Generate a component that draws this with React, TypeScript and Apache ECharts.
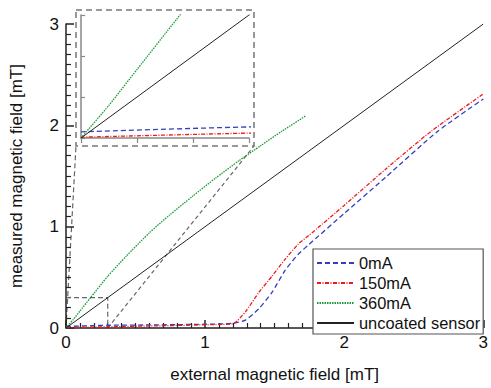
import React, { useEffect, useRef } from "react";
import * as echarts from "echarts";

const xTicks = [0, 1, 2, 3];
const seriesNames = ["0mA", "150mA", "360mA", "uncoated sensor"];

const blueX = [0, 0.3, 0.6, 0.9, 1.1, 1.2, 1.29, 1.386, 1.48, 1.576, 1.671, 1.743, 2.0, 2.3, 2.671, 3.0];
const blueY = [0.015, 0.027, 0.03, 0.035, 0.04, 0.047, 0.078, 0.19, 0.35, 0.57, 0.73, 0.82, 1.13, 1.49, 1.94, 2.26];

const redX = [0, 0.3, 0.6, 0.9, 1.1, 1.207, 1.29, 1.386, 1.48, 1.576, 1.671, 1.743, 2.0, 2.3, 2.624, 3.0];
const redY = [0.002, 0.012, 0.02, 0.028, 0.035, 0.045, 0.16, 0.35, 0.51, 0.68, 0.83, 0.91, 1.21, 1.57, 1.94, 2.31];

const greenX = [0, 0.05, 0.1, 0.171, 0.3, 0.433, 0.6, 0.743, 0.91, 1.076, 1.243, 1.4, 1.55, 1.724];
const greenY = [0, 0.08, 0.167, 0.29, 0.51, 0.709, 0.94, 1.113, 1.3, 1.48, 1.65, 1.8, 1.94, 2.094];

const refX = [0, 3];
const refY = [0, 3];

const zoomBoxX = [0, 0.3, 0.3];
const zoomBoxY = [0.3, 0.3, 0];

const zip = (xs: number[], ys: number[]) => xs.map((x, i) => [x, ys[i]]);

const FONT = "'Liberation Sans', Arial, sans-serif";
const BLUE = "#3040c0";
const RED = "#f01818";
const GREEN = "#1a9a3a";
const BLACK = "#222";

export default function App() {
  const ref = useRef<HTMLDivElement>(null);
  useEffect(() => {
    if (!ref.current) return;
    const chart = echarts.init(ref.current, undefined, { renderer: "svg" });

    const lineSeries = (name: string, data: number[][], color: string, type: any, idx: number) => ({
      name,
      type: "line",
      data,
      xAxisIndex: idx,
      yAxisIndex: idx,
      symbol: "none",
      showSymbol: false,
      smooth: 0.2,
      clip: true,
      lineStyle: { color, width: 1.3, type },
      itemStyle: { color },
      z: idx === 1 ? 5 : 3,
    });

    const mk = (idx: number) => [
      lineSeries(seriesNames[0], zip(blueX, blueY), BLUE, [5, 3], idx),
      lineSeries(seriesNames[1], zip(redX, redY), RED, [4, 1.5, 1, 1.5], idx),
      lineSeries(seriesNames[2], zip(greenX, greenY), GREEN, [1.5, 1], idx),
      { ...lineSeries(seriesNames[3], zip(refX, refY), BLACK, "solid", idx), smooth: false, lineStyle: { color: BLACK, width: 1, type: "solid" } },
    ];

    chart.setOption({
      animation: false,
      backgroundColor: "#fff",
      textStyle: { fontFamily: FONT },
      grid: [
        { left: 66, right: 5, top: 24, bottom: 55 },
        { left: 81, top: 15, width: 168, height: 123 },
      ],
      xAxis: [
        {
          type: "value",
          gridIndex: 0,
          min: 0,
          max: 3,
          interval: 1,
          name: "external magnetic field [mT]",
          nameLocation: "middle",
          nameGap: 38,
          nameTextStyle: { fontSize: 17, color: "#111", fontFamily: FONT },
          axisLine: { show: true, lineStyle: { color: "#222", width: 1.5 } },
          axisTick: { show: true, inside: true, length: 8, lineStyle: { color: "#222", width: 1.5 } },
          minorTick: { show: true, splitNumber: 10, length: 5, lineStyle: { color: "#222", width: 1.2 } },
          axisLabel: { fontSize: 17, color: "#111", margin: 6, fontFamily: FONT, formatter: (v: number) => (xTicks.includes(v) ? String(v) : "") },
          splitLine: { show: false },
        },
        {
          type: "value",
          gridIndex: 1,
          min: 0,
          max: 0.3,
          interval: 0.1,
          axisLine: { show: true, lineStyle: { color: "#888", width: 1.5 } },
          axisTick: { show: true, inside: false, length: 5, lineStyle: { color: "#888", width: 1.2 } },
          axisLabel: { show: false },
          splitLine: { show: false },
        },
      ],
      yAxis: [
        {
          type: "value",
          gridIndex: 0,
          min: 0,
          max: 3,
          interval: 1,
          name: "measured magnetic field [mT]",
          nameLocation: "middle",
          nameGap: 41,
          nameTextStyle: { fontSize: 17, color: "#111", fontFamily: FONT },
          axisLine: { show: true, lineStyle: { color: "#222", width: 1.5 } },
          axisTick: { show: true, inside: true, length: 8, lineStyle: { color: "#222", width: 1.5 } },
          minorTick: { show: true, splitNumber: 10, length: 5, lineStyle: { color: "#222", width: 1.2 } },
          axisLabel: { fontSize: 17, color: "#111", margin: 7, fontFamily: FONT },
          splitLine: { show: false },
        },
        {
          type: "value",
          gridIndex: 1,
          min: 0,
          max: 0.3,
          interval: 0.1,
          axisLine: { show: true, lineStyle: { color: "#888", width: 1.5 } },
          axisTick: { show: true, inside: true, length: 4, lineStyle: { color: "#888", width: 1.2 } },
          axisLabel: { show: false },
          splitLine: { show: false },
        },
      ],
      legend: {
        data: seriesNames,
        orient: "vertical",
        left: 313,
        top: 249,
        backgroundColor: "#fff",
        borderColor: "#555",
        borderWidth: 1.2,
        padding: [5, 3, 2, 3],
        itemWidth: 37,
        itemHeight: 10,
        itemGap: 2,
        itemStyle: { opacity: 0, borderWidth: 0 },
        textStyle: { fontSize: 16.4, color: "#111", lineHeight: 18, fontFamily: FONT },
      },
      series: [
        ...mk(0),
        ...mk(1),
        {
          name: "zoombox",
          type: "line",
          data: zip(zoomBoxX, zoomBoxY),
          xAxisIndex: 0,
          yAxisIndex: 0,
          symbol: "none",
          silent: true,
          lineStyle: { color: "#666", width: 1.2, type: [5, 3] },
          z: 2,
        },
      ],
    });

    const p0 = chart.convertToPixel({ xAxisIndex: 0, yAxisIndex: 0 } as any, [0, 0]) as number[];
    const p1 = chart.convertToPixel({ xAxisIndex: 0, yAxisIndex: 0 } as any, [0.3, 0]) as number[];
    const frame = { x: 76, y: 10, w: 178, h: 136 };
    chart.setOption({
      graphic: [
        {
          type: "rect",
          shape: { x: frame.x, y: frame.y, width: frame.w, height: frame.h },
          style: { fill: "none", stroke: "#777", lineWidth: 1.5, lineDash: [6, 4] },
          silent: true,
          z: 10,
        },
        {
          type: "line",
          shape: { x1: p0[0], y1: p0[1], x2: frame.x, y2: frame.y + frame.h },
          style: { stroke: "#666", lineWidth: 1.2, lineDash: [5, 3] },
          silent: true,
        },
        {
          type: "line",
          shape: { x1: p1[0], y1: p1[1], x2: frame.x + frame.w, y2: frame.y + frame.h },
          style: { stroke: "#666", lineWidth: 1.2, lineDash: [4, 3] },
          silent: true,
        },
      ],
    });

    return () => chart.dispose();
  }, []);
  return <div ref={ref} style={{ width: 491, height: 388, position: "absolute", left: 0, top: 0 }} />;
}
